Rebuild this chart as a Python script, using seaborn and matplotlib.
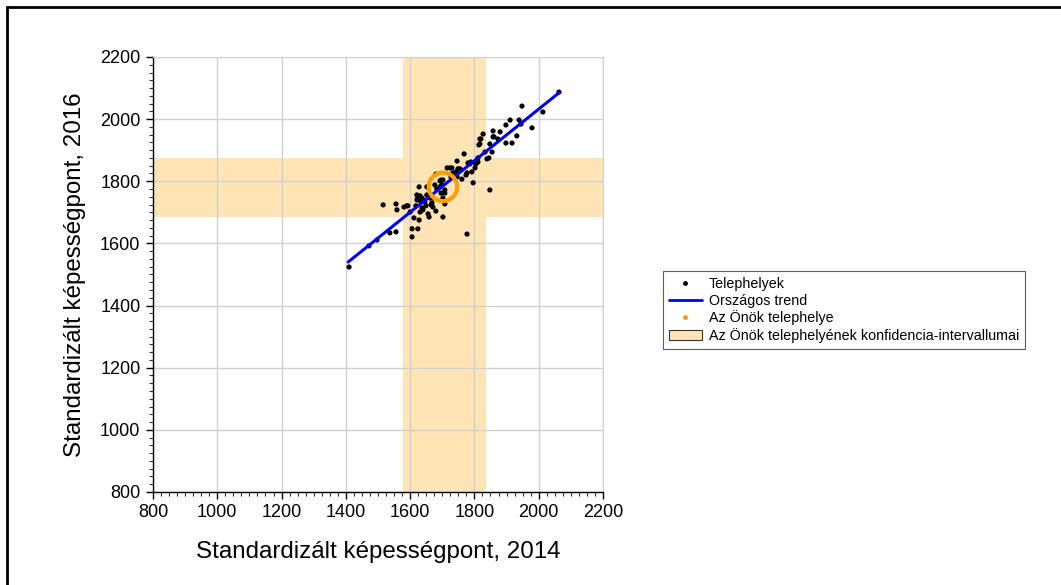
import pandas as pd
import matplotlib.pyplot as plt
import seaborn as sns
from matplotlib.ticker import MultipleLocator
from matplotlib.lines import Line2D
from matplotlib.patches import Patch

# Telephelyek pontjai (2014, 2016)
x2014 = [1410, 1472, 1497, 1537, 1556, 1516, 1556, 1559, 1581, 1593,
         1606, 1606, 1624, 1612, 1628, 1600, 1631, 1637, 1628, 1631,
         1637, 1631, 1646, 1649, 1656, 1659, 1652, 1662, 1665, 1680,
         1702, 1708, 1618, 1621, 1621, 1671, 1640, 1680, 1683, 1693,
         1696, 1708, 1715, 1724, 1727, 1733, 1746, 1743, 1749, 1758,
         1761, 1768, 1774, 1777, 1780, 1789, 1792, 1796, 1802, 1805,
         1811, 1814, 1817, 1827, 1833, 1839, 1845, 1848, 1858, 1858,
         1848, 1855, 1880, 1873, 1861, 1898, 1898, 1911, 1917, 1932,
         1939, 1948, 1945, 1979, 2013, 2063, 1820, 1730, 1811, 1733,
         1755, 1777, 1702, 1736, 1746, 1693, 1677, 1699, 1708, 1624,
         1652, 1671, 1696, 1640, 1702, 1590, 1668, 1786, 1802, 1817]
y2016 = [1524, 1592, 1611, 1634, 1637, 1724, 1727, 1708, 1717, 1721,
         1647, 1621, 1647, 1682, 1675, 1701, 1701, 1714, 1782, 1753,
         1746, 1737, 1733, 1721, 1695, 1685, 1782, 1746, 1724, 1704,
         1685, 1727, 1721, 1740, 1756, 1717, 1708, 1823, 1775, 1782,
         1804, 1762, 1843, 1843, 1814, 1820, 1865, 1830, 1840, 1836,
         1807, 1888, 1820, 1630, 1859, 1862, 1830, 1795, 1843, 1856,
         1862, 1917, 1936, 1952, 1894, 1872, 1875, 1772, 1962, 1943,
         1920, 1894, 1959, 1936, 1943, 1981, 1923, 1997, 1923, 1946,
         1997, 2042, 1984, 1972, 2023, 2087, 1936, 1843, 1875, 1827,
         1840, 1827, 1804, 1814, 1814, 1801, 1788, 1788, 1772, 1749,
         1756, 1746, 1762, 1740, 1746, 1721, 1730, 1856, 1859, 1920]

# Országos trend végpontjai
trend_x = [1407, 2066]
trend_y = [1540, 2087]

# Az Önök telephelye és konfidencia-intervallumai
own_x, own_y = 1702, 1782
ci_x = (1578, 1836)
ci_y = (1685, 1875)

df = pd.DataFrame({'x': x2014, 'y': y2016})
trend = pd.DataFrame({'x': trend_x, 'y': trend_y})

sns.set_style('white')
plt.rcParams['font.family'] = ['Liberation Sans', 'DejaVu Sans']
plt.rcParams['text.color'] = 'black'
plt.rcParams['axes.labelcolor'] = 'black'
plt.rcParams['xtick.color'] = 'black'
plt.rcParams['ytick.color'] = 'black'

band = '#FFE5B5'
fig = plt.figure(figsize=(10.61, 5.85), dpi=100)
ax = fig.add_axes([0.1442, 0.159, 0.4241, 0.7436])

ax.axvspan(*ci_x, color=band, lw=0, zorder=0)
ax.axhspan(*ci_y, color=band, lw=0, zorder=0)

sns.scatterplot(data=df, x='x', y='y', ax=ax, color='black', s=14,
                edgecolor='none', zorder=3, legend=False)
sns.lineplot(data=trend, x='x', y='y', ax=ax, color='#0000EE', lw=2.2, zorder=4)
ax.scatter([own_x], [own_y], s=420, facecolors='none', edgecolors='#FF9E00',
           linewidths=3, zorder=5)

ax.set_xlim(800, 2200)
ax.set_ylim(800, 2200)
ax.xaxis.set_major_locator(MultipleLocator(200))
ax.yaxis.set_major_locator(MultipleLocator(200))
ax.xaxis.set_minor_locator(MultipleLocator(25))
ax.yaxis.set_minor_locator(MultipleLocator(25))
ax.grid(True, which='major', color='#D0D0D0', lw=1, zorder=1)
ax.set_axisbelow(True)
ax.tick_params(which='major', direction='out', length=5, width=1, color='black',
               labelsize=13, labelcolor='black', left=True, bottom=True, pad=4)
ax.tick_params(which='minor', direction='out', length=3, width=0.8, color='#333333',
               left=True, bottom=True)
for s in ['left', 'bottom']:
    ax.spines[s].set_color('black')
    ax.spines[s].set_linewidth(1)
for s in ['top', 'right']:
    ax.spines[s].set_color('#D0D0D0')

ax.set_xlabel('Standardizált képességpont, 2014', fontsize=17.4, labelpad=14,
              color='black')
ax.set_ylabel('Standardizált képességpont, 2016', fontsize=17.4, labelpad=10,
              color='black')

handles = [
    Line2D([], [], ls='none', marker='o', ms=2.5, color='black'),
    Line2D([], [], color='#0000EE', lw=2),
    Line2D([], [], ls='none', marker='o', ms=2.5, color='#FF9E00'),
    Patch(facecolor=band, edgecolor='#333333', lw=0.8),
]
labels = ['Telephelyek', 'Országos trend', 'Az Önök telephelye',
          'Az Önök telephelyének konfidencia-intervallumai']
leg = fig.legend(handles, labels, loc='upper left', bbox_to_anchor=(0.6249, 0.5368),
                 frameon=True, fancybox=False, fontsize=10.3, handlelength=2.3,
                 borderpad=0.4, labelspacing=0.2, handletextpad=0.5, borderaxespad=0,
                 labelcolor='black')
leg.get_frame().set_edgecolor('#333333')
leg.get_frame().set_linewidth(0.8)

# külső keret
fig.add_artist(Line2D([7 / 1061, 7 / 1061], [0, 1 - 7 / 585], color='black', lw=2,
                      transform=fig.transFigure))
fig.add_artist(Line2D([7 / 1061, 1], [1 - 7 / 585, 1 - 7 / 585], color='black', lw=2,
                      transform=fig.transFigure))

fig.savefig('out.png', dpi=100)
